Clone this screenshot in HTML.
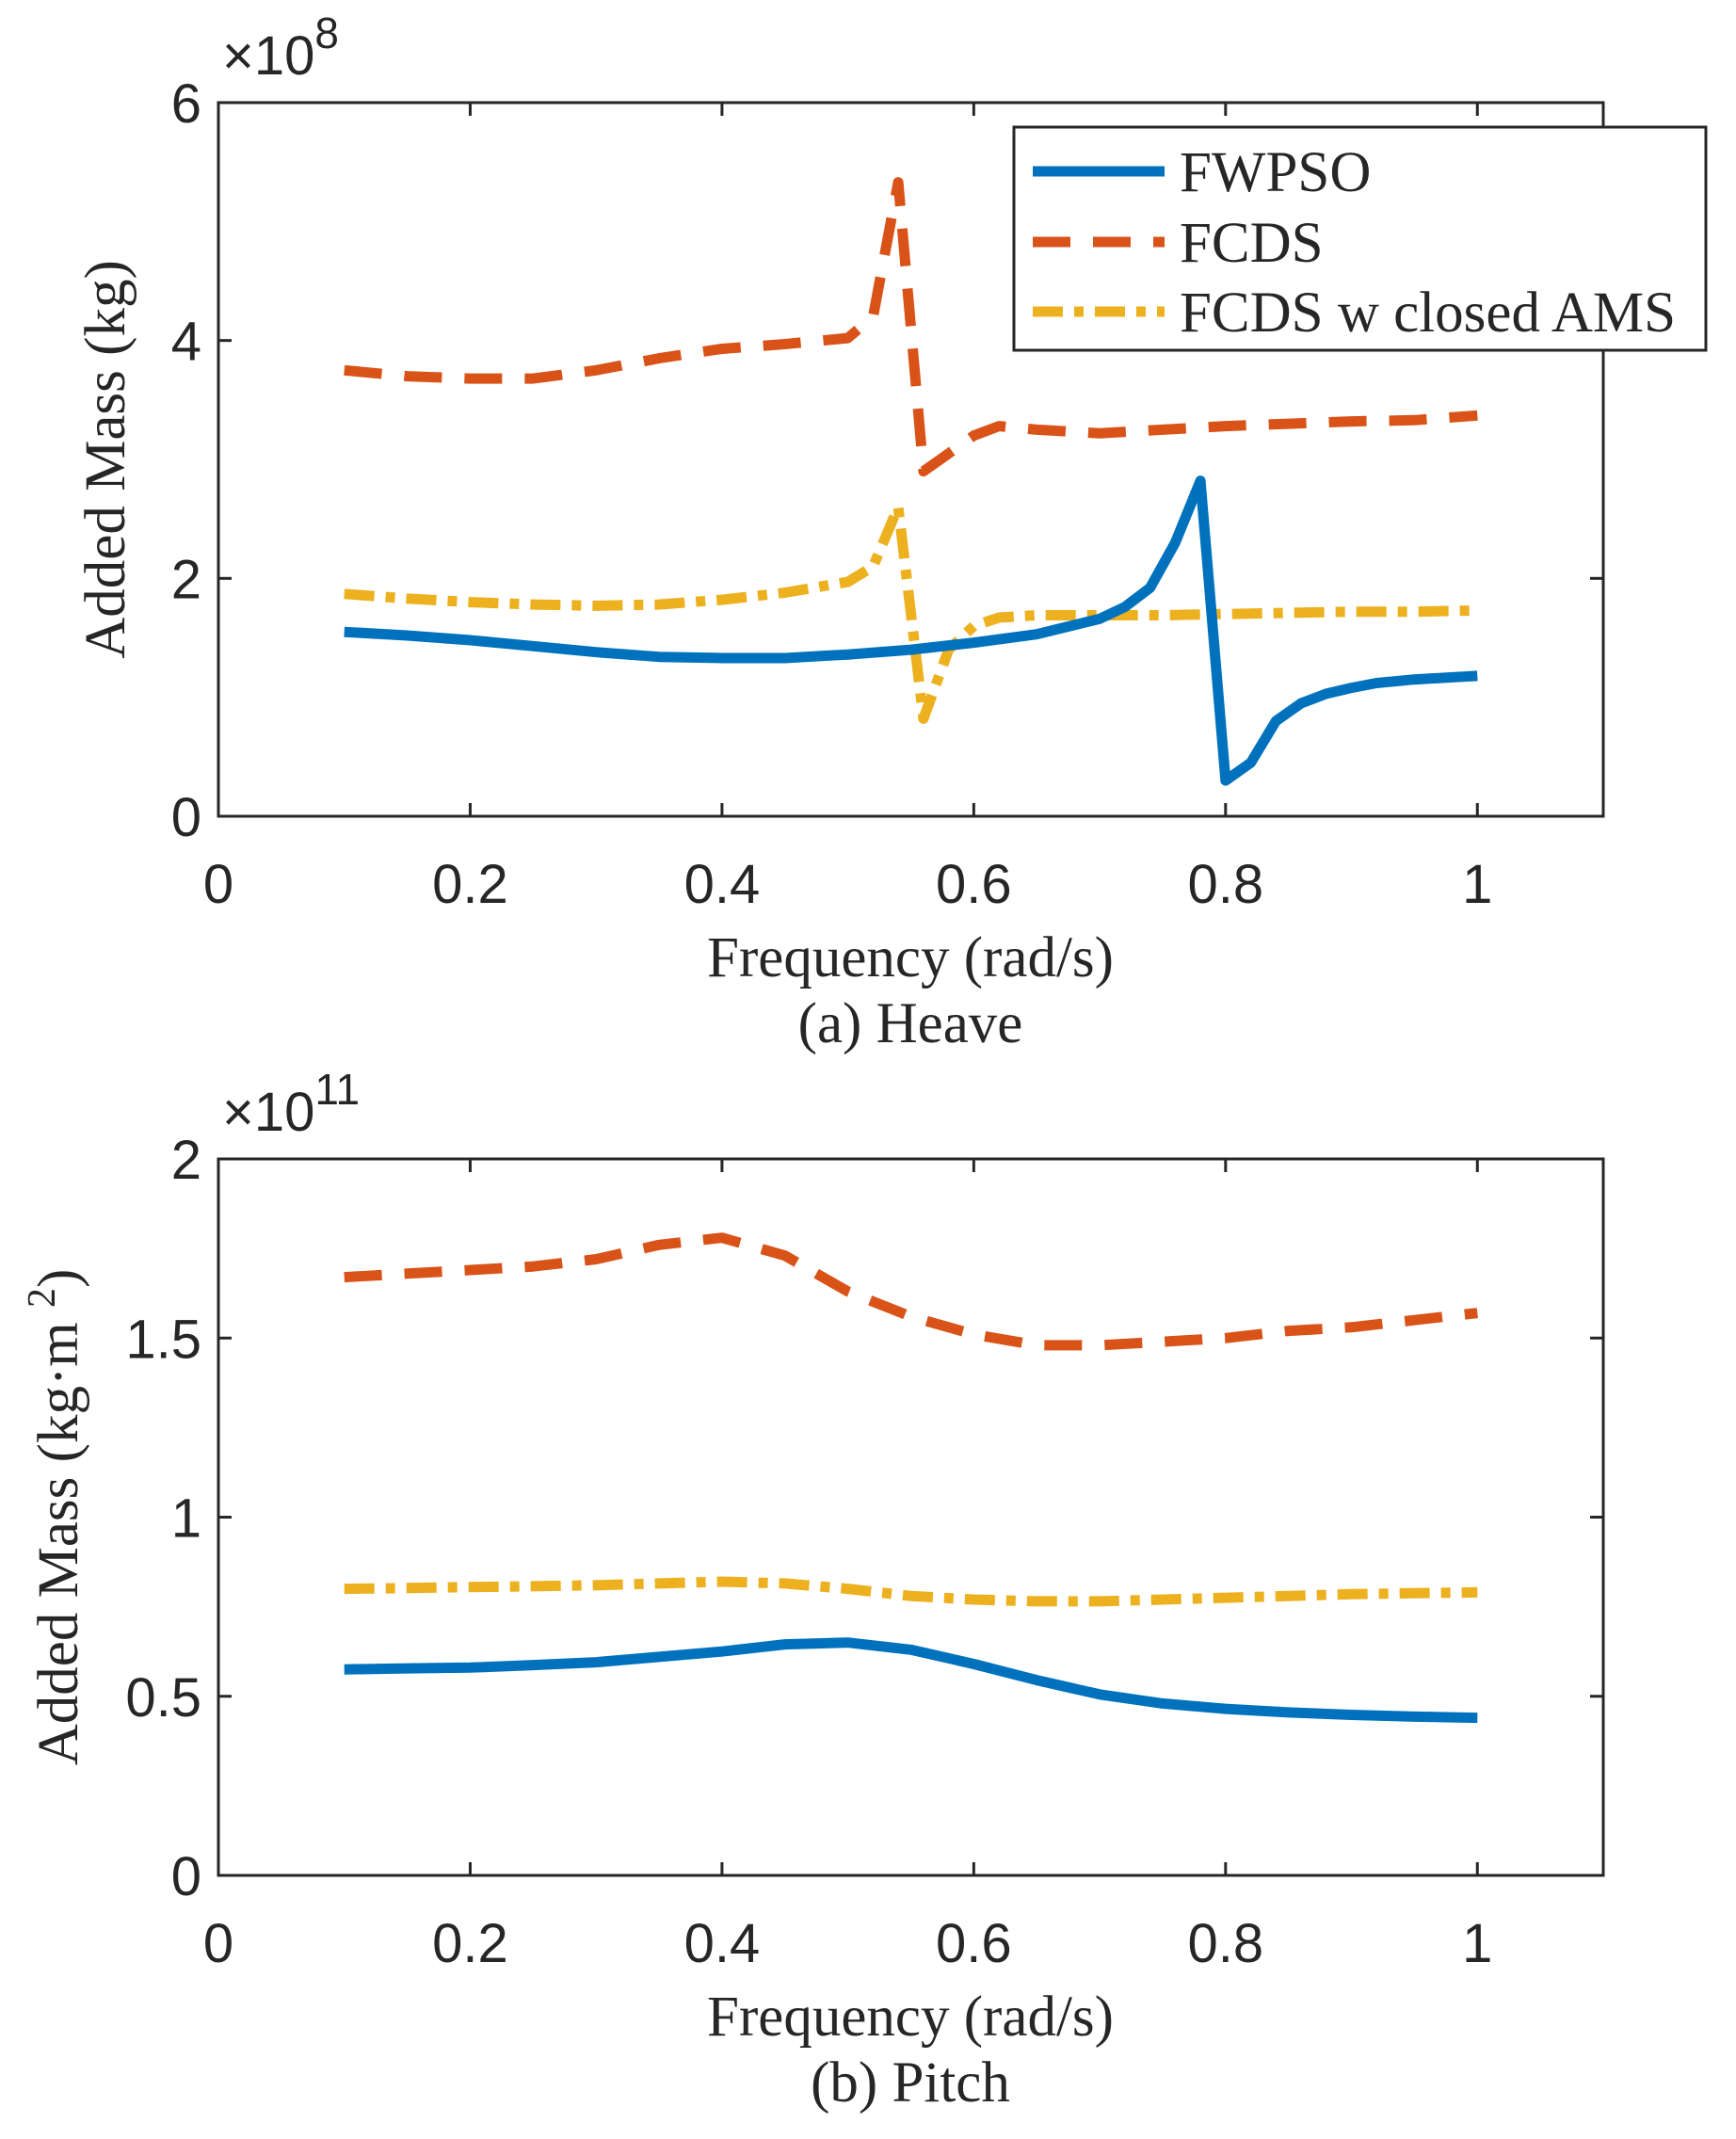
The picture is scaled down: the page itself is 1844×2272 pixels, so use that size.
<!DOCTYPE html>
<html><head><meta charset="utf-8"><style>
html,body{margin:0;padding:0;background:#fff;}
svg{display:block;}
.tick{font-family:"Liberation Sans",sans-serif;font-size:58px;fill:#262626;}
.lab{font-family:"Liberation Serif",serif;font-size:61px;fill:#262626;}
</style></head><body>
<svg id="chart" width="1844" height="2272" viewBox="0 0 1844 2272" xmlns="http://www.w3.org/2000/svg"></svg>
<script>
const heaveX1 = [0.1,0.15,0.2,0.25,0.3,0.35,0.4,0.45,0.5,0.55,0.6,0.65,0.7,0.72,0.74,0.76,0.78,0.8,0.82,0.84,0.86,0.88,0.9,0.92,0.95,1.0];
const heaveFWPSO = [1.55,1.52,1.48,1.43,1.38,1.34,1.33,1.33,1.36,1.40,1.46,1.53,1.66,1.76,1.92,2.3,2.82,0.3,0.45,0.8,0.95,1.03,1.08,1.12,1.15,1.18];
const heaveX2 = [0.1,0.15,0.2,0.25,0.3,0.35,0.4,0.45,0.5,0.52,0.54,0.56,0.58,0.6,0.62,0.65,0.7,0.75,0.8,0.85,0.9,0.95,1.0];
const heaveFCDS = [3.75,3.7,3.68,3.68,3.75,3.85,3.93,3.97,4.02,4.2,5.33,2.9,3.05,3.2,3.28,3.25,3.22,3.25,3.28,3.3,3.32,3.33,3.37];
const heaveFCDSw = [1.87,1.83,1.8,1.78,1.77,1.78,1.82,1.88,1.97,2.1,2.6,0.82,1.4,1.6,1.67,1.69,1.69,1.69,1.7,1.71,1.72,1.72,1.73];
const pitchX = [0.1,0.15,0.2,0.25,0.3,0.35,0.4,0.45,0.5,0.55,0.6,0.65,0.7,0.75,0.8,0.85,0.9,0.95,1.0];
const pitchFWPSO = [0.575,0.578,0.58,0.587,0.595,0.61,0.625,0.645,0.65,0.63,0.59,0.545,0.505,0.48,0.465,0.455,0.448,0.443,0.44];
const pitchFCDS = [1.67,1.68,1.69,1.7,1.72,1.76,1.78,1.73,1.63,1.56,1.51,1.48,1.48,1.49,1.5,1.52,1.53,1.55,1.57];
const pitchFCDSw = [0.80,0.802,0.805,0.807,0.81,0.815,0.82,0.815,0.8,0.78,0.77,0.765,0.765,0.77,0.775,0.78,0.785,0.788,0.79];
const xTicks = [0,0.2,0.4,0.6,0.8,1];
const xTickLabels = ['0','0.2','0.4','0.6','0.8','1'];
const heaveYTicks = [0,2,4,6];
const heaveYLabels = ['0','2','4','6'];
const pitchYTicks = [0,0.5,1,1.5,2];
const pitchYLabels = ['0','0.5','1','1.5','2'];

const NS='http://www.w3.org/2000/svg';
const svg=document.getElementById('chart');
function el(tag,attrs,parent){const e=document.createElementNS(NS,tag);for(const k in attrs)e.setAttribute(k,attrs[k]);(parent||svg).appendChild(e);return e;}
const L=232,R=1703;
const styles={
  fwpso:{stroke:'#0072BD',dash:''},
  fcds:{stroke:'#D95319',dash:'40 24'},
  fcdsw:{stroke:'#EDB120',dash:'32 12 10 12'}
};
function panel(name,top,bot,ymax,yt,ytl,series,exp,ylabel,xtitle,caption){
  const g=el('g',{});
  
  
  const sx=v=>L+(R-L)*v/1.1;
  const sy=v=>bot-(bot-top)*v/ymax;
  series.forEach(s=>{
    const d=s.x.map((x,i)=>(i?'L':'M')+sx(x).toFixed(1)+','+sy(s.y[i]).toFixed(1)).join(' ');
    const p=el('path',{d:d,fill:'none',stroke:styles[s.k].stroke,'stroke-width':11,'stroke-dasharray':styles[s.k].dash,'stroke-linejoin':'round'},g);
    
    
  });
  const box=el('rect',{x:L,y:top,width:R-L,height:bot-top,fill:'none',stroke:'#262626','stroke-width':3},g);
  
  
  xTicks.forEach((t,i)=>{
    el('line',{x1:sx(t),x2:sx(t),y1:bot,y2:bot-14,stroke:'#262626','stroke-width':3},g);
    el('line',{x1:sx(t),x2:sx(t),y1:top,y2:top+14,stroke:'#262626','stroke-width':3},g);
    const tx=el('text',{x:sx(t),y:bot+92,'text-anchor':'middle',class:'tick'},g);
    tx.textContent=xTickLabels[i];
    
    
  });
  yt.forEach((t,i)=>{
    el('line',{x1:L,x2:L+14,y1:sy(t),y2:sy(t),stroke:'#262626','stroke-width':3},g);
    el('line',{x1:R,x2:R-14,y1:sy(t),y2:sy(t),stroke:'#262626','stroke-width':3},g);
    const tx=el('text',{x:L-18,y:sy(t)+21,'text-anchor':'end',class:'tick'},g);
    tx.textContent=ytl[i];
    
    
  });
  const ex=el('text',{x:236,y:top-30,class:'tick','font-size':'60'},g);
  ex.innerHTML='\u00d710<tspan dy="-28" font-size="46">'+exp+'</tspan>';
  
  
  const yl=el('text',{x:0,y:0,class:'lab','text-anchor':'middle',transform:'translate('+(name==='heave-panel'?132:82)+','+((top+bot)/2)+') rotate(-90)'},g);
  yl.innerHTML=ylabel;
  
  
  const xl=el('text',{x:967,y:bot+170,class:'lab','text-anchor':'middle'},g);
  xl.textContent=xtitle;
  
  
  const cp=el('text',{x:967,y:bot+240,class:'lab','text-anchor':'middle'},g);
  cp.textContent=caption;
  
  
}
panel('heave-panel',109,867,6,heaveYTicks,heaveYLabels,[
  {k:'fcdsw',name:'fcds-closed-ams-line',x:heaveX2,y:heaveFCDSw},
  {k:'fcds',name:'fcds-line',x:heaveX2,y:heaveFCDS},
  {k:'fwpso',name:'fwpso-line',x:heaveX1,y:heaveFWPSO}],'8','Added Mass (kg)','Frequency (rad/s)','(a) Heave');
panel('pitch-panel',1231,1992,2,pitchYTicks,pitchYLabels,[
  {k:'fcdsw',name:'fcds-closed-ams-line',x:pitchX,y:pitchFCDSw},
  {k:'fcds',name:'fcds-line',x:pitchX,y:pitchFCDS},
  {k:'fwpso',name:'fwpso-line',x:pitchX,y:pitchFWPSO}],'11','Added Mass (kg\u00b7m <tspan dy="-24" font-size="42">2</tspan><tspan dy="24">)</tspan>','Frequency (rad/s)','(b) Pitch');

const lg=el('g',{});


el('rect',{x:1077,y:135,width:735,height:237,fill:'#fff',stroke:'#262626','stroke-width':3},lg);
const entries=[['fwpso','FWPSO',182],['fcds','FCDS',257],['fcdsw','FCDS w closed AMS',331]];
entries.forEach(e=>{
  const it=el('g',{},lg);
  
  
  el('line',{x1:1097,x2:1237,y1:e[2],y2:e[2],stroke:styles[e[0]].stroke,'stroke-width':11,'stroke-dasharray':styles[e[0]].dash},it);
  const t=el('text',{x:1253,y:e[2]+21,class:'lab'},it);
  t.textContent=e[1];
});
</script>
</body></html>
